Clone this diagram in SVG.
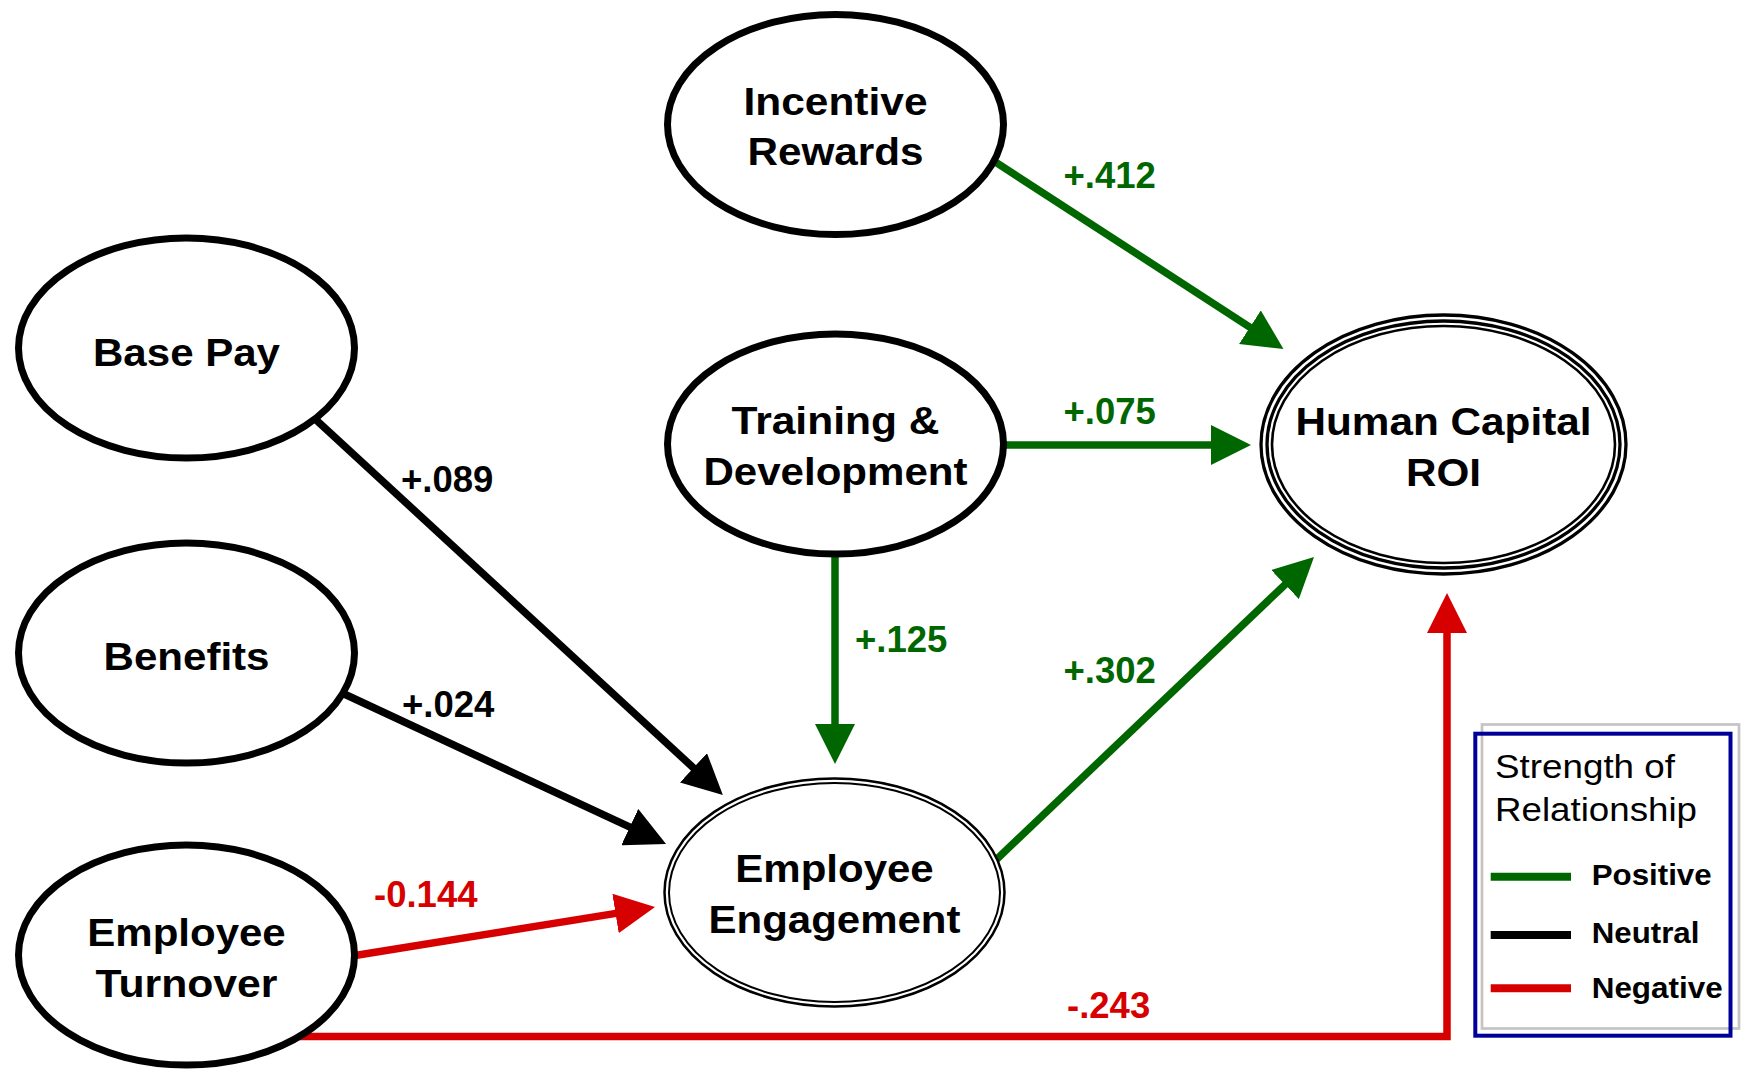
<svg xmlns="http://www.w3.org/2000/svg" width="1741" height="1072" viewBox="0 0 1741 1072">
<style>
.node{fill:#fff;stroke:#000;stroke-width:7}
.ring{fill:none;stroke:#000}
.lbl{font-family:"Liberation Sans",Arial,sans-serif;font-weight:bold;font-size:39px;text-anchor:middle;fill:#000}
.el{font-family:"Liberation Sans",Arial,sans-serif;font-weight:bold;font-size:36.5px}
.pos{stroke:#006600;fill:none;stroke-width:7.5}
.neu{stroke:#000;fill:none;stroke-width:7.5}
.neg{stroke:#d70000;fill:none;stroke-width:7.5}
.gt{fill:#006600}.bt{fill:#000}.rt{fill:#d70000}
.leg{font-family:"Liberation Sans",Arial,sans-serif;fill:#000}
</style>
<defs>
<marker id="ag" markerUnits="userSpaceOnUse" markerWidth="40" markerHeight="40" viewBox="0 0 40 40" refX="2" refY="20" orient="auto"><path d="M0,0 L40,20 L0,40 Z" fill="#006600"/></marker>
<marker id="ab" markerUnits="userSpaceOnUse" markerWidth="40" markerHeight="40" viewBox="0 0 40 40" refX="2" refY="20" orient="auto"><path d="M0,0 L40,20 L0,40 Z" fill="#000"/></marker>
<marker id="ar" markerUnits="userSpaceOnUse" markerWidth="40" markerHeight="40" viewBox="0 0 40 40" refX="2" refY="20" orient="auto"><path d="M0,0 L40,20 L0,40 Z" fill="#d70000"/></marker>
</defs>
<rect width="1741" height="1072" fill="#fff"/>
<g id="connectors">
<line class="pos" x1="991" y1="159.2" x2="1251.6" y2="328.3" marker-end="url(#ag)"/>
<line class="pos" x1="1000" y1="445" x2="1213" y2="445" marker-end="url(#ag)"/>
<line class="pos" x1="835" y1="552" x2="835" y2="726" marker-end="url(#ag)"/>
<line class="pos" x1="992" y1="863.7" x2="1286.5" y2="583.2" marker-end="url(#ag)"/>
<line class="neu" x1="314" y1="417.9" x2="694.9" y2="769.2" marker-end="url(#ab)"/>
<line class="neu" x1="341" y1="692.5" x2="631.6" y2="827.9" marker-end="url(#ab)"/>
<line class="neg" x1="352" y1="956" x2="617.5" y2="913.1" marker-end="url(#ar)"/>
<polyline class="neg" points="280,1036.5 1447,1036.5 1447,631" marker-end="url(#ar)"/>
<text class="el gt" x="1063.5" y="187.5">+.412</text>
<text class="el gt" x="1063.5" y="423.5">+.075</text>
<text class="el bt" x="401" y="492">+.089</text>
<text class="el bt" x="402" y="717">+.024</text>
<text class="el gt" x="855" y="651.5">+.125</text>
<text class="el gt" x="1063.5" y="683">+.302</text>
<text class="el rt" x="374" y="907">-0.144</text>
<text class="el rt" x="1067" y="1018">-.243</text>
</g>
<g id="incentive-rewards">
<ellipse class="node" cx="835.5" cy="124.5" rx="168" ry="110"/>
<text class="lbl" x="835.5" y="114.5" textLength="184" lengthAdjust="spacingAndGlyphs">Incentive</text>
<text class="lbl" x="835.5" y="165" textLength="176" lengthAdjust="spacingAndGlyphs">Rewards</text>
</g>
<g id="training-development">
<ellipse class="node" cx="835.5" cy="444" rx="168" ry="110"/>
<text class="lbl" x="835.5" y="434" textLength="208" lengthAdjust="spacingAndGlyphs">Training &amp;</text>
<text class="lbl" x="835.5" y="485" textLength="264" lengthAdjust="spacingAndGlyphs">Development</text>
</g>
<g id="base-pay">
<ellipse class="node" cx="186.5" cy="348" rx="168" ry="110"/>
<text class="lbl" x="186.5" y="365.5" textLength="187" lengthAdjust="spacingAndGlyphs">Base Pay</text>
</g>
<g id="benefits">
<ellipse class="node" cx="186.5" cy="653" rx="168" ry="110"/>
<text class="lbl" x="186.5" y="670" textLength="166" lengthAdjust="spacingAndGlyphs">Benefits</text>
</g>
<g id="employee-turnover">
<ellipse class="node" cx="186.5" cy="955" rx="168" ry="110"/>
<text class="lbl" x="186.5" y="945.5" textLength="198.5" lengthAdjust="spacingAndGlyphs">Employee</text>
<text class="lbl" x="186.5" y="996.5" textLength="182" lengthAdjust="spacingAndGlyphs">Turnover</text>
</g>
<g id="employee-engagement">
<ellipse cx="834.5" cy="892.5" rx="170" ry="114" fill="#fff" stroke="#000" stroke-width="2.5"/>
<ellipse class="ring" cx="834.5" cy="892.5" rx="165.5" ry="109.5" stroke-width="2"/>
<text class="lbl" x="834.5" y="881.5" textLength="198.5" lengthAdjust="spacingAndGlyphs">Employee</text>
<text class="lbl" x="834.5" y="932.5" textLength="252" lengthAdjust="spacingAndGlyphs">Engagement</text>
</g>
<g id="human-capital-roi">
<ellipse cx="1443.5" cy="444.5" rx="182.5" ry="129.5" fill="#fff" stroke="#000" stroke-width="3.3"/>
<ellipse class="ring" cx="1443.5" cy="444.5" rx="176.5" ry="123.5" stroke-width="3.3"/>
<ellipse class="ring" cx="1443.5" cy="444.5" rx="171.5" ry="118.5" stroke-width="2.6"/>
<text class="lbl" x="1443.5" y="435" textLength="296" lengthAdjust="spacingAndGlyphs">Human Capital</text>
<text class="lbl" x="1443.5" y="485.5" textLength="75" lengthAdjust="spacingAndGlyphs">ROI</text>
</g>
<g id="legend">
<rect x="1482" y="724.5" width="257" height="304" fill="none" stroke="#c4c4c4" stroke-width="2.7"/>
<rect x="1475.3" y="733.7" width="255.2" height="302" fill="none" stroke="#000099" stroke-width="4"/>
<text class="leg" x="1495" y="778" font-size="33" textLength="180" lengthAdjust="spacingAndGlyphs">Strength of</text>
<text class="leg" x="1495" y="821" font-size="33" textLength="202" lengthAdjust="spacingAndGlyphs">Relationship</text>
<line x1="1490.7" y1="876.7" x2="1571" y2="876.7" stroke="#006600" stroke-width="8"/>
<line x1="1490.7" y1="935" x2="1571" y2="935" stroke="#000" stroke-width="8"/>
<line x1="1490.7" y1="988.3" x2="1571" y2="988.3" stroke="#d70000" stroke-width="8"/>
<text class="leg" x="1591.7" y="885" font-size="29.5" font-weight="bold" textLength="120" lengthAdjust="spacingAndGlyphs">Positive</text>
<text class="leg" x="1591.7" y="943.3" font-size="29.5" font-weight="bold" textLength="107.7" lengthAdjust="spacingAndGlyphs">Neutral</text>
<text class="leg" x="1591.7" y="998" font-size="29.5" font-weight="bold" textLength="131" lengthAdjust="spacingAndGlyphs">Negative</text>
</g>
</svg>
